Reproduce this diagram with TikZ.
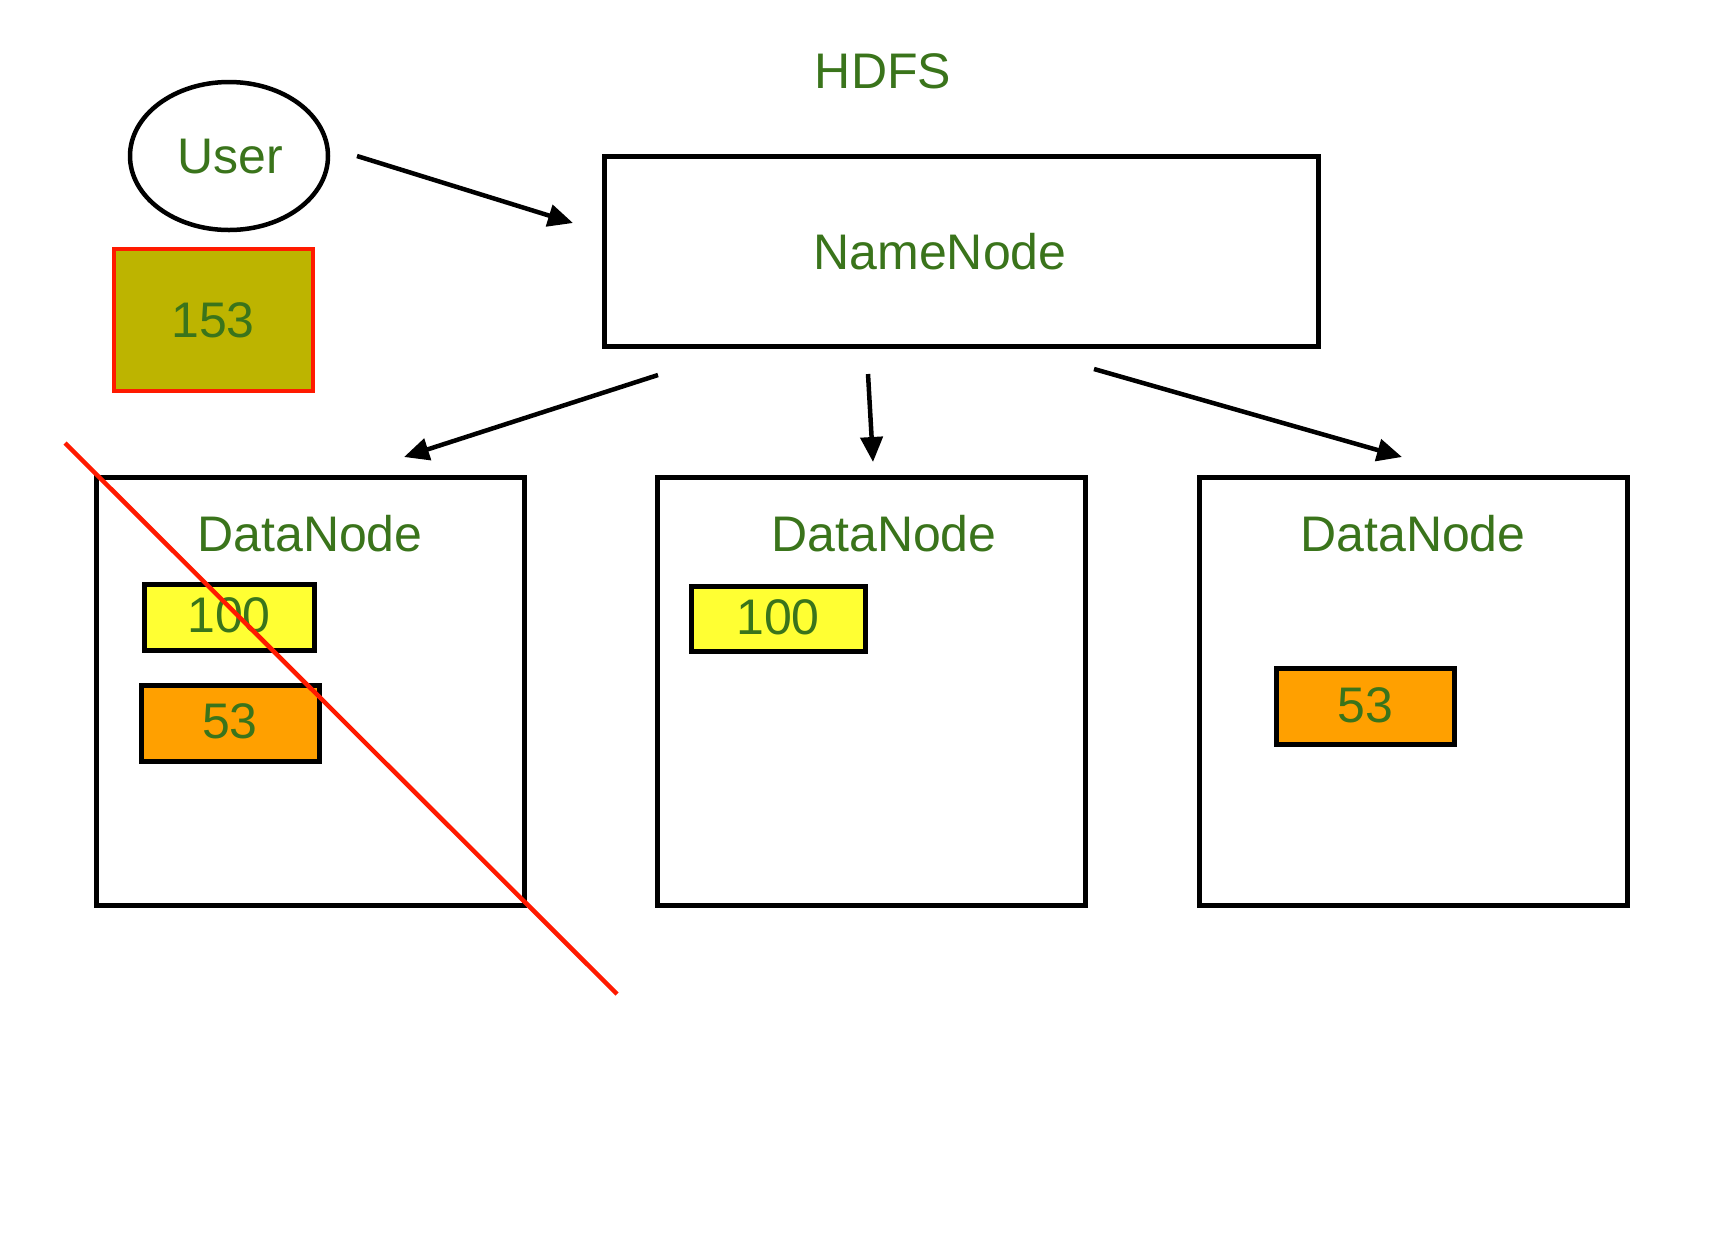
\documentclass[tikz,border=0pt]{standalone}
\usepackage{fontspec}
\setmainfont{Liberation Sans}
\usetikzlibrary{arrows.meta,shapes.geometric}
\definecolor{labelgreen}{HTML}{3A741B}
\definecolor{blockyellow}{HTML}{FFFF33}
\definecolor{blockorange}{HTML}{FFA000}
\definecolor{blockolive}{HTML}{BDB400}
\definecolor{crossred}{HTML}{FF1A00}
\tikzset{
  lbl/.style={text=labelgreen, font=\fontsize{25}{30}\selectfont, inner sep=0pt},
  frame/.style={draw=black, line width=2.5pt, rectangle, inner sep=0pt},
  block/.style={frame, line width=2.5pt},
  link/.style={draw=black, line width=2.25pt, -{Triangle[length=12.5pt,width=11pt]}},
}
\begin{document}
\begin{tikzpicture}[x=0.5pt,y=-0.5pt]
\useasboundingbox (0,0) rectangle (1716,1244);
\fill[white] (0,0) rectangle (1716,1244);

% title
\node[lbl] (title) at (883,71) {HDFS};

% client
\node[ellipse, draw=black, line width=2.25pt, minimum width=99pt, minimum height=74pt, inner sep=0pt] (user) at (229,156) {};
\node[lbl] (usertxt) at (230,157) {User};
\node[rectangle, draw=crossred, line width=2.25pt, fill=blockolive, minimum width=99.5pt, minimum height=71pt, inner sep=0pt] (file) at (213.5,320) {};
\node[lbl] (filetxt) at (213,320) {153};

% name node
\node[frame, minimum width=357pt, minimum height=95pt] (nn) at (961.5,251) {};
\node[lbl] (nntxt) at (940,252) {NameNode};

% data nodes
\node[frame, minimum width=214pt, minimum height=214pt] (dn1) at (310,691.5) {};
\node[frame, minimum width=214pt, minimum height=214pt] (dn2) at (871.5,691.5) {};
\node[frame, minimum width=214pt, minimum height=214pt] (dn3) at (1413.5,691.5) {};
\node[lbl] (dn1txt) at (310,534) {DataNode};
\node[lbl] (dn2txt) at (884,534) {DataNode};
\node[lbl] (dn3txt) at (1413,534) {DataNode};

% blocks stored on the data nodes
\node[block, fill=blockyellow, minimum width=85pt, minimum height=33pt] (b1a) at (229.5,617) {};
\node[lbl] (b1atxt) at (229,615) {100};
\node[block, fill=blockorange, minimum width=89pt, minimum height=38pt] (b1b) at (230,723.5) {};
\node[lbl] (b1btxt) at (230,721) {53};
\node[block, fill=blockyellow, minimum width=87pt, minimum height=32.5pt] (b2a) at (778.5,618.5) {};
\node[lbl] (b2atxt) at (778,617) {100};
\node[block, fill=blockorange, minimum width=89pt, minimum height=38pt] (b3a) at (1365,706.5) {};
\node[lbl] (b3atxt) at (1365,705) {53};

% connector end points
\coordinate (u0) at (357,156);
\coordinate (u1) at (573,223);
\coordinate (l0) at (658,375);
\coordinate (l1) at (404,457);
\coordinate (m0) at (868,374);
\coordinate (m1) at (873,462);
\coordinate (r0) at (1094,369);
\coordinate (r1) at (1402,457);

\draw[link] (u0) -- (u1);
\draw[link] (l0) -- (l1);
\draw[link] (m0) -- (m1);
\draw[link] (r0) -- (r1);

% failed data node is struck out
\coordinate (x0) at (65,443);
\coordinate (x1) at (617,994);
\draw[crossred, line width=2.25pt] (x0) -- (x1);
\end{tikzpicture}
\end{document}
